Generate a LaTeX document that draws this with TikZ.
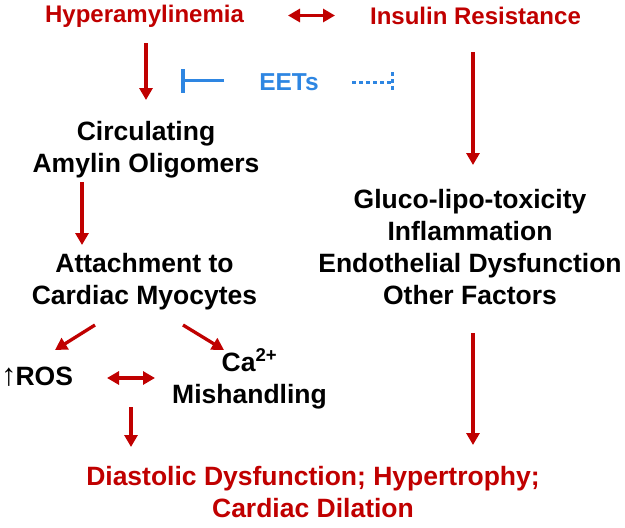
\documentclass[tikz,border=0pt]{standalone}
\usepackage{fontspec}
\setmainfont{Liberation Sans}
\newfontfamily\arrowfont{Liberation Sans}
\usetikzlibrary{arrows.meta,calc}
\definecolor{dred}{RGB}{192,0,0}
\definecolor{eblue}{RGB}{46,134,226}
\begin{document}
\begin{tikzpicture}[x=1pt,y=-1pt,
  lbl/.style={inner sep=0pt, anchor=base, align=center, font=\fontsize{26.5}{32}\selectfont\bfseries},
  ttl/.style={lbl, text=dred, font=\fontsize{24}{29}\selectfont\bfseries},
  arr/.style={draw=dred, line width=3.3pt, -{Triangle[width=13pt,length=12pt]}},
  dblarr/.style={draw=dred, line width=3.3pt, {Triangle[width=13pt,length=12pt]}-{Triangle[width=13pt,length=12pt]}},
  inh/.style={draw=eblue, line width=3.3pt, -{Bar[width=24pt,line width=4pt]}},
  dotline/.style={draw=eblue, line width=3pt, dash pattern=on 3.5pt off 3.5pt}
]
\useasboundingbox (0,0) rectangle (625,528);

% base anchor of a multi-line node = baseline of its last line
\node[ttl] (hyper) at (144.5,22.5) {Hyperamylinemia};
\node[ttl] (insulin) at (475.5,24) {Insulin Resistance};
\node[lbl, text=eblue, font=\fontsize{24.5}{29}\selectfont\bfseries] (eets) at (289,90) {EETs};
\node[lbl] (circ) at (146,172) {Circulating\\Amylin Oligomers};
\node[lbl] (attach) at (144.5,304) {Attachment to\\Cardiac Myocytes};
\node[lbl] (gluco) at (470,304) {Gluco-lipo-toxicity\\Inflammation\\Endothelial Dysfunction\\Other Factors};
\node[lbl] (ros) at (37,385) {{\arrowfont\mdseries\fontsize{31}{32}\selectfont ↑}\kern-1ptROS};
\node[lbl] (ca) at (249.5,403) {Ca\textsuperscript{2+}\\Mishandling};
\node[lbl, text=dred] (dd) at (313,517) {Diastolic Dysfunction; Hypertrophy;\\Cardiac Dilation};

\coordinate (inhtgt) at (181,80.5);
\coordinate (dottgt) at (392,82);

\draw[dblarr] ($(hyper.base)+(143.5,-7)$) -- ($(insulin.base)+(-140.5,-8.5)$);
\draw[arr] ($(hyper.base)+(1.5,20.5)$) -- ($(circ.base)+(0,-72)$);
\draw[inh] ($(eets.base)+(-65,-9.5)$) -- (inhtgt);
\draw[dotline] ($(eets.base)+(63,-8)$) -- (dottgt);
\draw[dotline] ([yshift=10pt]dottgt) -- ([yshift=-9pt]dottgt);
\draw[arr] ($(insulin.base)+(-2.5,28)$) -- ($(gluco.base)+(3,-139)$);
\draw[arr] ($(circ.base)+(-64,10)$) -- ($(attach.base)+(-62.5,-59)$);
\draw[arr] ($(attach.base)+(-49.5,21)$) -- ($(ros.base)+(18,-35)$);
\draw[arr] ($(attach.base)+(38.5,21)$) -- ($(ca.base)+(-25.5,-53)$);
\draw[dblarr] ($(ros.base)+(70,-7)$) -- ($(ca.base)+(-94.5,-25)$);
\draw[arr] ($(ros.base)+(94,22)$) -- ($(dd.base)+(-182,-70)$);
\draw[arr] ($(gluco.base)+(3,29)$) -- ($(dd.base)+(160,-72)$);
\end{tikzpicture}
\end{document}
